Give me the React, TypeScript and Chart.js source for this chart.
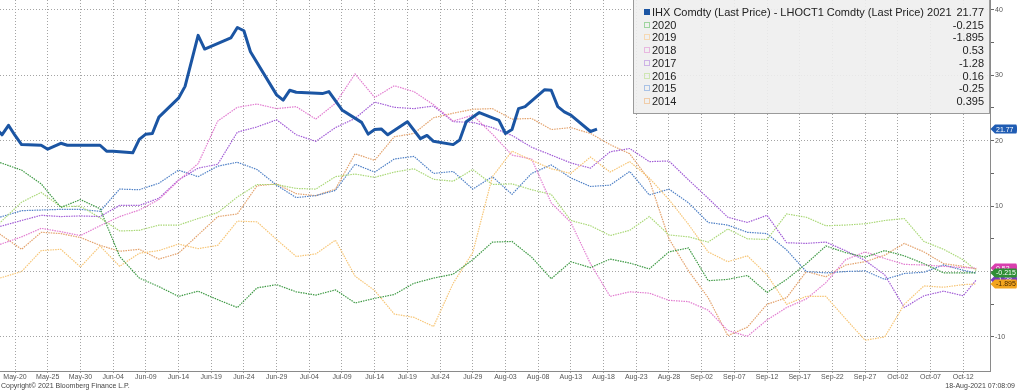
import React, { useEffect, useRef } from 'react';
import { Chart, registerables } from 'chart.js';

Chart.register(...registerables);

// ---- axis data ----
const tickDays = [0, 5, 10, 15, 20, 25, 30, 35, 40, 45, 50, 55, 60, 65, 70, 75, 80, 85, 90, 95, 100, 105, 110, 115, 120, 125, 130, 135, 140, 145];
const tickLabels = ['May-20', 'May-25', 'May-30', 'Jun-04', 'Jun-09', 'Jun-14', 'Jun-19', 'Jun-24', 'Jun-29', 'Jul-04', 'Jul-09', 'Jul-14', 'Jul-19', 'Jul-24', 'Jul-29', 'Aug-03', 'Aug-08', 'Aug-13', 'Aug-18', 'Aug-23', 'Aug-28', 'Sep-02', 'Sep-07', 'Sep-12', 'Sep-17', 'Sep-22', 'Sep-27', 'Oct-02', 'Oct-07', 'Oct-12'];
const yTickValues = [-10, -5, 0, 5, 10, 15, 20, 25, 30, 35, 40];

// ---- 2021 (days from May-20) ----
const days2021 = [-3, -2, -1, 0, 1, 4, 5, 7, 8, 13, 14, 15, 18, 19, 20, 21, 22, 25, 26, 28, 29, 33, 34, 35, 36, 40, 41, 42, 43, 47, 48, 50, 53, 54, 55, 56, 57, 60, 62, 63, 64, 67, 68, 69, 71, 74, 75, 76, 77, 78, 81, 82, 83, 84, 85, 88, 89];
const ihx2021 = [22.0, 20.9, 22.35, 20.8, 19.4, 19.3, 18.7, 19.6, 19.3, 19.3, 18.4, 18.4, 18.15, 20.2, 21.0, 21.1, 23.6, 26.5, 28.3, 36.1, 34.0, 35.7, 37.3, 36.8, 33.6, 27.0, 26.2, 27.7, 27.4, 27.2, 27.5, 24.7, 22.8, 21.0, 21.7, 21.8, 20.9, 22.9, 20.3, 20.8, 19.9, 19.4, 20.1, 22.9, 24.3, 23.1, 21.1, 21.7, 24.9, 25.2, 27.8, 27.7, 25.2, 24.4, 23.9, 21.4, 21.77];

// ---- seasonal years (days from May-20) ----
const histDays = [-3, 1, 4, 7, 10, 13, 16, 19, 22, 25, 28, 31, 34, 37, 40, 43, 46, 49, 52, 55, 58, 61, 64, 67, 70, 73, 76, 79, 82, 85, 88, 91, 94, 97, 100, 103, 106, 109, 112, 115, 118, 121, 124, 127, 130, 133, 136, 139, 142, 145, 147];
const y2020 = [16.9, 15.5, 13.4, 9.8, 11.0, 9.6, 2.3, -1.0, -2.3, -3.8, -3.0, -4.3, -5.5, -2.5, -2.0, -3.1, -3.6, -2.8, -4.8, -4.1, -3.5, -1.8, -1.0, -0.4, 1.8, 4.5, 4.6, 2.2, -1.1, 1.5, 0.6, 1.9, 1.3, 0.4, 3.0, 3.6, -1.4, -1.2, -0.6, -3.2, -1.2, 1.2, 3.9, 2.9, 2.2, 3.2, 2.4, 1.2, -0.2, -0.2, -0.215];
const y2019 = [-1.2, 0.0, 3.2, 3.4, 0.7, 3.9, 0.8, 2.8, 3.2, 4.2, 3.5, 4.0, 7.7, 7.6, 4.9, 2.3, 2.7, 4.8, -0.7, -2.9, -6.5, -7.0, -8.4, -1.8, 2.9, 14.5, 18.4, 17.0, 15.7, 15.0, 17.5, 15.2, 16.8, 14.3, 11.0, 7.2, 3.0, 1.5, 2.4, -0.5, -5.0, -3.8, -3.8, -7.2, -10.5, -10.0, -5.0, -2.2, -2.4, -2.0, -1.895];
const y2018 = [3.9, 5.3, 6.6, 6.1, 5.5, 7.0, 8.4, 9.4, 11.0, 13.9, 16.5, 23.0, 25.1, 25.6, 24.9, 25.2, 23.3, 25.7, 30.2, 26.6, 28.4, 27.5, 25.5, 23.0, 23.9, 21.0, 17.8, 17.2, 10.5, 7.5, 1.2, -3.8, -3.1, -3.3, -4.4, -4.6, -5.9, -9.0, -9.9, -7.4, -5.5, -4.2, -1.7, 1.8, 3.0, 2.0, 1.1, 1.0, 0.8, 0.6, 0.53];
const y2017 = [6.7, 7.8, 8.6, 8.4, 8.5, 8.4, 10.1, 10.1, 11.2, 14.0, 15.8, 16.4, 21.3, 22.1, 23.2, 20.9, 19.9, 22.0, 23.4, 25.9, 25.1, 24.9, 25.3, 22.9, 22.8, 22.0, 20.8, 19.0, 17.8, 16.6, 15.8, 18.3, 18.8, 16.8, 16.9, 14.0, 11.2, 8.3, 7.5, 8.6, 4.4, 4.3, 4.5, 3.2, 1.7, -0.5, -5.5, -3.7, -3.0, -3.7, -1.28];
const y2016 = [6.8, 10.6, 12.1, 9.9, 10.0, 8.2, 6.2, 6.3, 7.1, 7.1, 8.1, 9.0, 11.4, 13.3, 13.3, 12.7, 12.6, 14.5, 14.9, 14.4, 15.2, 15.7, 14.1, 13.8, 15.6, 13.3, 13.4, 12.5, 11.8, 7.8, 7.0, 5.5, 6.3, 8.4, 5.6, 5.3, 4.5, 6.5, 5.0, 4.9, 8.8, 8.3, 7.0, 7.1, 7.3, 7.8, 8.1, 4.6, 3.4, 1.8, 0.16];
const y2015 = [8.1, 9.3, 9.4, 9.5, 9.5, 9.2, 12.6, 12.5, 13.5, 15.5, 14.5, 16.1, 16.7, 15.6, 13.2, 11.3, 11.6, 12.4, 16.4, 15.2, 17.2, 17.6, 15.0, 15.3, 12.6, 14.5, 11.8, 15.0, 16.3, 14.3, 13.0, 13.2, 15.3, 11.7, 12.6, 10.5, 7.5, 7.1, 6.0, 5.8, 3.3, 0.0, -0.2, 0.0, 0.1, -1.2, -0.3, -0.1, 1.0, 0.2, -0.25];
const y2014 = [6.2, 3.4, 6.0, 5.8, 5.2, 4.0, 3.1, 3.4, 1.9, 2.8, 5.6, 8.4, 8.8, 13.1, 13.4, 11.9, 11.6, 12.6, 18.0, 17.0, 20.6, 21.1, 23.5, 24.2, 24.8, 24.9, 23.3, 23.4, 21.7, 22.0, 21.1, 19.4, 18.0, 14.0, 5.0, 0.1, -4.0, -9.8, -8.5, -5.0, -4.0, 0.0, -0.8, 1.0, 1.5, 2.5, 4.3, 3.0, 1.2, 0.8, 0.395];

const seriesLabels = ['2020', '2019', '2018', '2017', '2016', '2015', '2014'];
const seriesValues = [y2020, y2019, y2018, y2017, y2016, y2015, y2014];
const seriesLast = ['-0.215', '-1.895', '0.53', '-1.28', '0.16', '-0.25', '0.395'];
const seriesColors = ['#3f9a45', '#f7c677', '#e27cd0', '#a15bd6', '#aad877', '#4f80c6', '#e3a26c'];
const legendBoxColors = ['#9fd49f', '#f6d9b3', '#e8b8e0', '#cdb2e6', '#cfe6b3', '#a9c2e6', '#f0cca8'];

const mainLabel = 'IHX Comdty (Last Price) - LHOCT1 Comdty (Last Price) 2021';
const mainLast = '21.77';
const mainColor = '#1b55a3';

// right-axis value tags
const tagValues = [21.77, 0.53, -1.28, -0.215, -1.895];
const tagTexts = ['21.77', '0.53', '-1.28', '-0.215', '-1.895'];
const tagFills = ['#1f5cb3', '#d93fae', '#7b3cc0', '#2f8f35', '#f2a51f'];
const tagInk = ['#ffffff', '#ffffff', '#ffffff', '#ffffff', '#4a2a00'];

const FONT = '"Liberation Sans", Arial, sans-serif';

export default function App() {
  const ref = useRef<HTMLCanvasElement | null>(null);

  useEffect(() => {
    document.body.style.margin = '0';
    const canvas = ref.current;
    if (!canvas) return;

    const tagPlugin = {
      id: 'valueTags',
      afterDraw(chart: any) {
        const ctx = chart.ctx;
        const ys = chart.scales.y;
        const xr = chart.chartArea.right;
        ctx.save();
        ctx.font = `7px ${FONT}`;
        ctx.textBaseline = 'middle';
        ctx.textAlign = 'left';
        tagValues.forEach((v, i) => {
          const y = ys.getPixelForValue(v);
          const h = 9;
          ctx.beginPath();
          ctx.moveTo(xr + 0.5, y);
          ctx.lineTo(xr + 5, y - h / 2);
          ctx.lineTo(1016, y - h / 2);
          ctx.quadraticCurveTo(1017, y - h / 2, 1017, y);
          ctx.quadraticCurveTo(1017, y + h / 2, 1016, y + h / 2);
          ctx.lineTo(xr + 5, y + h / 2);
          ctx.closePath();
          ctx.fillStyle = tagFills[i];
          ctx.fill();
          ctx.fillStyle = tagInk[i];
          ctx.fillText(tagTexts[i], xr + 6, y + 0.5);
        });
        ctx.restore();
      },
    };

    const datasets: any[] = [
      {
        label: mainLabel,
        data: days2021.map((d, i) => ({ x: d, y: ihx2021[i] })),
        borderColor: mainColor,
        borderWidth: 3,
        pointRadius: 0,
        tension: 0,
        fill: false,
        borderJoinStyle: 'round',
      },
      ...seriesLabels.map((lab, k) => ({
        label: lab,
        data: histDays.map((d, i) => ({ x: d, y: seriesValues[k][i] })),
        borderColor: seriesColors[k],
        borderWidth: 1.2,
        borderDash: [1.5, 1],
        pointRadius: 0,
        tension: 0,
        fill: false,
      })),
    ];

    const chart = new Chart(canvas, {
      type: 'line',
      data: { datasets },
      options: {
        responsive: false,
        animation: false,
        devicePixelRatio: 1,
        layout: { padding: 0 },
        plugins: { legend: { display: false }, tooltip: { enabled: false } },
        scales: {
          x: {
            type: 'linear',
            min: -2.3,
            max: 149.1,
            afterBuildTicks: (s: any) => {
              s.ticks = tickDays.map((v) => ({ value: v }));
            },
            afterFit: (s: any) => {
              s.height = 19;
              s.paddingLeft = 0;
              s.paddingRight = 0;
            },
            ticks: {
              autoSkip: false,
              maxRotation: 0,
              minRotation: 0,
              padding: 0,
              color: '#555',
              font: { family: FONT, size: 7 },
              callback: (v: any) => {
                const i = tickDays.indexOf(Number(v));
                return i >= 0 ? tickLabels[i] : '';
              },
            },
            grid: { color: '#a4a4a4', lineWidth: 1, tickLength: 2, tickColor: '#a4a4a4' },
            border: { display: true, color: '#8a8a8a', width: 1, dash: [1, 2] },
          },
          y: {
            type: 'linear',
            position: 'right',
            min: -15.2,
            max: 41.5,
            afterBuildTicks: (s: any) => {
              s.ticks = yTickValues.map((v) => ({ value: v }));
            },
            afterFit: (s: any) => {
              s.width = 27;
              s.paddingTop = 0;
              s.paddingBottom = 0;
            },
            ticks: {
              padding: 1,
              color: '#555',
              font: { family: FONT, size: 7 },
              callback: (v: any) => (Number(v) % 10 === 0 ? String(v) : ''),
            },
            grid: {
              color: (c: any) => (c.tick && c.tick.value % 10 === 0 ? '#a4a4a4' : 'rgba(0,0,0,0)'),
              lineWidth: 1,
              tickLength: 4,
              tickColor: '#666',
            },
            border: { display: true, color: '#8a8a8a', width: 1, dash: [1, 2] },
          },
        },
      } as any,
      plugins: [tagPlugin],
    });

    return () => chart.destroy();
  }, []);

  const rowTop = (i: number) => 6 + i * 12.7;

  return (
    <div style={{ position: 'relative', width: 1017, height: 390, background: '#ffffff', overflow: 'hidden', fontFamily: FONT }}>
      <canvas ref={ref} width={1017} height={390} style={{ display: 'block', width: 1017, height: 390 }} />
      <div
        style={{
          position: 'absolute',
          left: 633,
          top: -1,
          width: 357,
          height: 115,
          background: 'rgba(238,238,238,0.9)',
          border: '1px solid #9a9a9a',
          boxSizing: 'border-box',
          color: '#222',
          fontSize: 11,
        }}
      >
        {[mainLabel, ...seriesLabels].map((lab, i) => (
          <div key={lab} style={{ position: 'absolute', left: 0, right: 0, top: rowTop(i), height: 13, lineHeight: '13px' }}>
            <span
              style={{
                position: 'absolute',
                left: 10,
                top: 3,
                width: 6,
                height: 6,
                boxSizing: 'border-box',
                background: i === 0 ? mainColor : 'transparent',
                border: `1px solid ${i === 0 ? mainColor : legendBoxColors[i - 1]}`,
              }}
            />
            <span style={{ position: 'absolute', left: 18, top: 0, whiteSpace: 'nowrap' }}>{lab}</span>
            <span style={{ position: 'absolute', right: 5, top: 0, whiteSpace: 'nowrap' }}>
              {i === 0 ? mainLast : seriesLast[i - 1]}
            </span>
          </div>
        ))}
      </div>
      <div style={{ position: 'absolute', left: 1, top: 381, fontSize: 7, color: '#444', whiteSpace: 'nowrap', lineHeight: '9px' }}>
        Copyright© 2021 Bloomberg Finance L.P.
      </div>
      <div style={{ position: 'absolute', right: 2, top: 381, fontSize: 7, color: '#444', whiteSpace: 'nowrap', lineHeight: '9px' }}>
        18-Aug-2021 07:08:09
      </div>
    </div>
  );
}
